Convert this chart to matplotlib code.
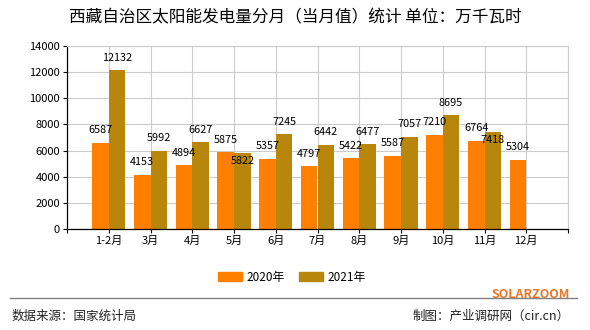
import matplotlib
matplotlib.use("Agg")
import matplotlib.pyplot as plt
from matplotlib.patches import Patch
from matplotlib.lines import Line2D

plt.rcParams["font.family"] = ["Noto Sans CJK SC", "DejaVu Sans"]

# data
months = ["1-2月", "3月", "4月", "5月", "6月", "7月", "8月", "9月", "10月", "11月", "12月"]
v2020 = [6587, 4153, 4894, 5875, 5357, 4797, 5422, 5587, 7210, 6764, 5304]
v2021 = [12132, 5992, 6627, 5822, 7245, 6442, 6477, 7057, 8695, 7418]

C20, C21 = "#FF8000", "#B8860B"
W, H = 590, 330

fig = plt.figure(figsize=(W / 100, H / 100), dpi=100)
ax = fig.add_axes([67 / W, 1 - 229 / H, (568 - 67) / W, (229 - 46) / H])

x20 = [i + 1 for i in range(len(v2020))]
x21 = [i + 1 for i in range(len(v2021))]
ax.bar([p - 0.2 for p in x20], v2020, width=0.4, color=C20, zorder=2)
ax.bar([p + 0.2 for p in x21], v2021, width=0.4, color=C21, zorder=2)

# value labels; two are nudged down where the chart tool avoided overlaps
shift21 = {3: -8, 9: -8}
for p, v in zip(x20, v2020):
    ax.annotate(str(v), (p - 0.2, v), xytext=(0, 12.5), textcoords="offset pixels",
                ha="center", va="center", fontsize=7.8, zorder=3)
for i, (p, v) in enumerate(zip(x21, v2021)):
    ax.annotate(str(v), (p + 0.2, v), xytext=(0, shift21.get(i, 12.5)), textcoords="offset pixels",
                ha="center", va="center", fontsize=7.8, zorder=3)

ax.set_xlim(0, 12)
ax.set_ylim(0, 14000)
ax.set_yticks(range(0, 14001, 2000))
ax.set_xticks(range(0, 13))
ax.set_xticklabels([""] + months + [""])
ax.tick_params(axis="both", labelsize=8, length=3, width=0.8, pad=2, color="black")
ax.grid(True, color="#CCCCCC", lw=0.8, zorder=0)
ax.set_axisbelow(True)
for s in ["top", "right"]:
    ax.spines[s].set_color("#CCCCCC")
for s in ["left", "bottom"]:
    ax.spines[s].set_color("black")
    ax.spines[s].set_linewidth(0.9)

fig.text(0.5, 1 - 18 / H, "西藏自治区太阳能发电量分月（当月值）统计 单位：万千瓦时",
         ha="center", va="center", fontsize=12)

handles = [Patch(color=C20, label="2020年"), Patch(color=C21, label="2021年")]
fig.legend(handles=handles, loc="center", bbox_to_anchor=(292 / W, 1 - 277 / H), ncol=2,
           frameon=False, fontsize=8.5, handlelength=2.0, handleheight=0.8,
           handletextpad=0.4, columnspacing=1.2)

fig.add_artist(Line2D([10 / W, 577 / W], [1 - 298 / H] * 2, color="#808080", lw=1))
fig.text(570 / W, 1 - 294 / H, "SOLARZOOM", ha="right", va="center",
         fontsize=9, fontweight="bold", color="#E8762B")
fig.text(12 / W, 1 - 316 / H, "数据来源：国家统计局", ha="left", va="center", fontsize=9,
         color="#222222")
fig.text(570 / W, 1 - 316 / H, "制图：产业调研网（cir.cn）", ha="right", va="center",
         fontsize=9, color="#222222")

fig.savefig("out.png", dpi=100)
